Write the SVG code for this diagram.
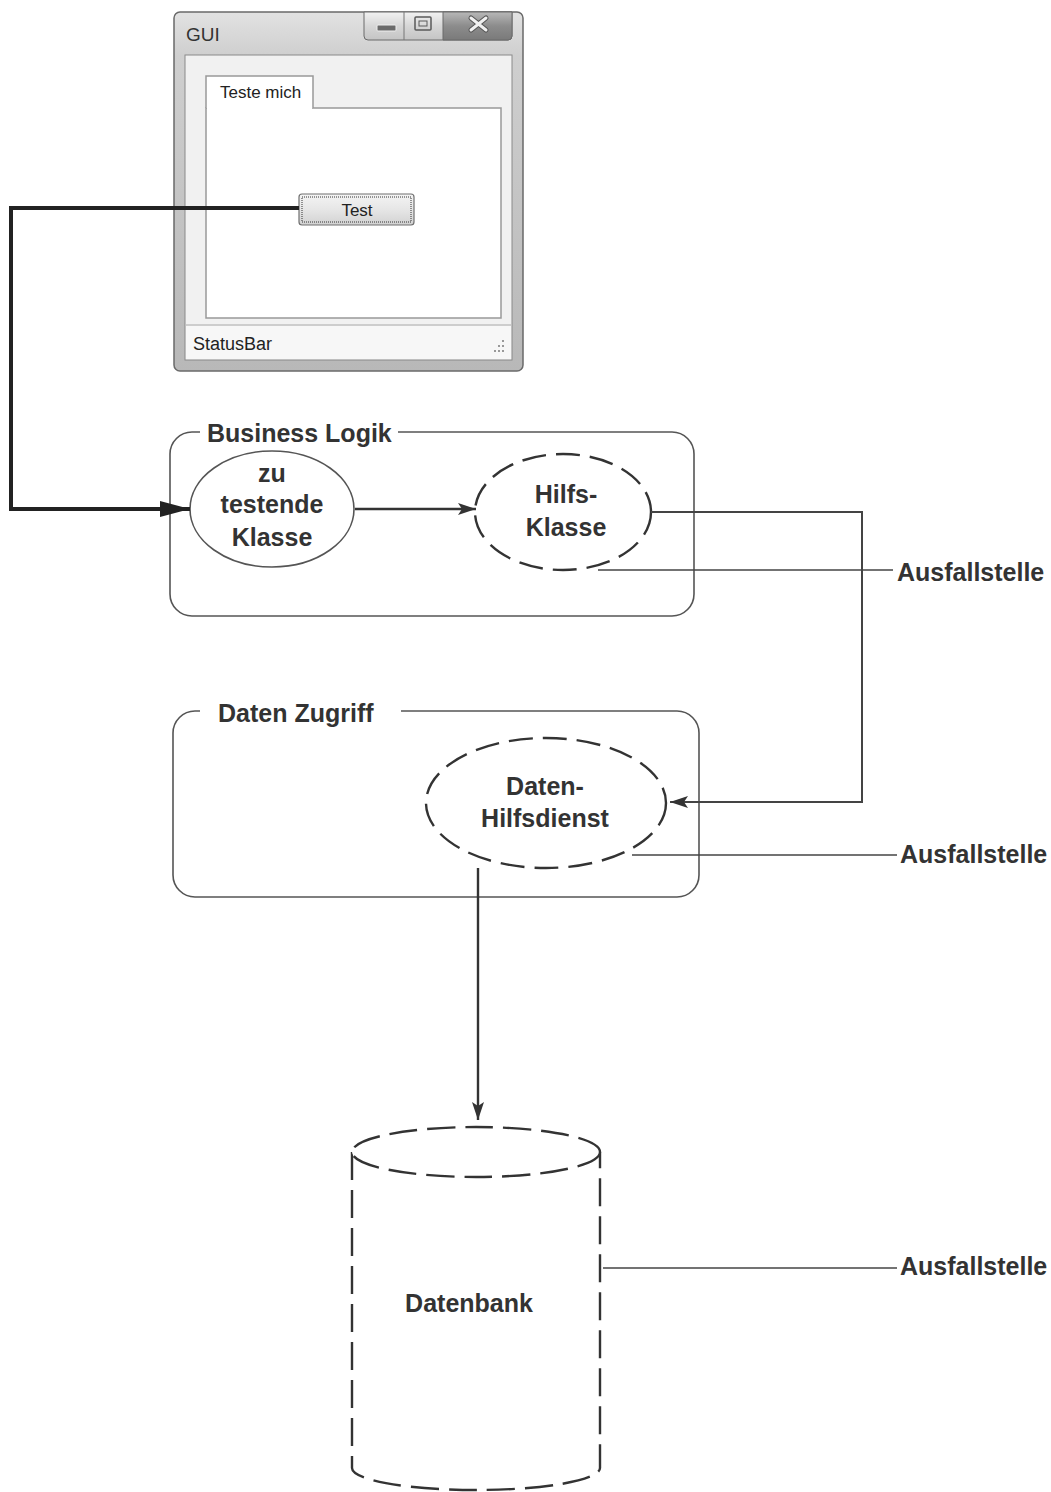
<svg xmlns="http://www.w3.org/2000/svg" width="1051" height="1492" viewBox="0 0 1051 1492">
<defs>
<style>
.lbl{font-family:"Liberation Sans",Arial,sans-serif;font-weight:bold;font-size:25px;fill:#333}
.mid{text-anchor:middle}
.win{font-family:"Liberation Sans",Arial,sans-serif;font-size:17px;fill:#222}
.box{fill:none;stroke:#555;stroke-width:1.6}
.solid{fill:#fff;stroke:#555;stroke-width:1.6}
.dash{fill:#fff;stroke:#333;stroke-width:2.4;stroke-dasharray:24 10}
.conn{fill:none;stroke:#444;stroke-width:1.6}
.grip{fill:#999}
</style>
<linearGradient id="frame" x1="0" y1="0" x2="0" y2="1">
<stop offset="0" stop-color="#e2e2e2"/>
<stop offset="0.12" stop-color="#cfcfcf"/>
<stop offset="1" stop-color="#b8b8b8"/>
</linearGradient>
<linearGradient id="tbtn" x1="0" y1="0" x2="0" y2="1">
<stop offset="0" stop-color="#f2f2f2"/>
<stop offset="0.5" stop-color="#d6d6d6"/>
<stop offset="1" stop-color="#c4c4c4"/>
</linearGradient>
<linearGradient id="tclose" x1="0" y1="0" x2="0" y2="1">
<stop offset="0" stop-color="#b8b8b8"/>
<stop offset="0.5" stop-color="#8c8c8c"/>
<stop offset="1" stop-color="#7a7a7a"/>
</linearGradient>
<linearGradient id="btn" x1="0" y1="0" x2="0" y2="1">
<stop offset="0" stop-color="#f4f4f4"/>
<stop offset="0.5" stop-color="#e6e6e6"/>
<stop offset="1" stop-color="#d2d2d2"/>
</linearGradient>
<marker id="bigArrow" markerUnits="userSpaceOnUse" markerWidth="32" markerHeight="20" refX="30" refY="10" orient="auto">
<path d="M0,2 L30,10 L0,18 Z" fill="#222"/>
</marker>
<marker id="arr" markerUnits="userSpaceOnUse" markerWidth="20" markerHeight="14" refX="18" refY="7" orient="auto">
<path d="M0,1 L18,7 L0,13 L4,7 Z" fill="#333"/>
</marker>
</defs>
<rect x="0" y="0" width="1051" height="1492" fill="#fff"/>

<g id="gui-window">
<rect x="174" y="12" width="349" height="359" rx="6" fill="url(#frame)" stroke="#6a6a6a" stroke-width="1.5"/>
<rect x="185" y="55" width="327" height="305" fill="#f1f1f1" stroke="#8a8a8a" stroke-width="1"/>
<text class="win" x="186" y="41" style="font-size:19px;fill:#333">GUI</text>
<g id="title-buttons">
<path d="M364,12 H512 V36 Q512,40 508,40 H368 Q364,40 364,36 Z" fill="url(#tbtn)" stroke="#6a6a6a" stroke-width="1"/>
<path d="M443,12 H512 V36 Q512,40 508,40 H443 Z" fill="url(#tclose)" stroke="#6a6a6a" stroke-width="1"/>
<line x1="404" y1="12" x2="404" y2="40" stroke="#777" stroke-width="1"/>
<rect x="377" y="25" width="19" height="6" rx="1" fill="#6a6a6a" stroke="#eee" stroke-width="1"/>
<rect x="415" y="17" width="16" height="13" rx="1" fill="none" stroke="#5a5a5a" stroke-width="1.5"/>
<rect x="419" y="21" width="8" height="5" fill="none" stroke="#5a5a5a" stroke-width="1"/>
<path d="M471,18 L486,30 M486,18 L471,30" stroke="#555" stroke-width="5" stroke-linecap="round"/>
<path d="M471,18 L486,30 M486,18 L471,30" stroke="#f0f0f0" stroke-width="3" stroke-linecap="round"/>
</g>
<rect x="206" y="108" width="295" height="210" fill="#fff" stroke="#999" stroke-width="1.5"/>
<path d="M206,108 V76 H313 V108" fill="#fff" stroke="#999" stroke-width="1.5"/>
<rect x="207" y="77" width="105" height="32" fill="#fff"/>
<text class="win" x="220" y="98">Teste mich</text>
<rect x="186" y="326" width="325" height="33" fill="#f7f7f7"/>
<line x1="186" y1="325" x2="511" y2="325" stroke="#aaa" stroke-width="1.2"/>
<text class="win" x="193" y="350" style="font-size:18px">StatusBar</text>
<g id="grip">
<rect class="grip" x="502" y="340" width="2" height="2"/>
<rect class="grip" x="498" y="345" width="2" height="2"/>
<rect class="grip" x="502" y="345" width="2" height="2"/>
<rect class="grip" x="494" y="350" width="2" height="2"/>
<rect class="grip" x="498" y="350" width="2" height="2"/>
<rect class="grip" x="502" y="350" width="2" height="2"/>
</g>
<g id="test-button">
<rect x="299" y="194" width="115" height="31" rx="3" fill="url(#btn)" stroke="#707070" stroke-width="1.2"/>
<rect x="302" y="197" width="109" height="25" fill="none" stroke="#333" stroke-width="1" stroke-dasharray="1 1"/>
<text class="win mid" x="357" y="216">Test</text>
</g>
</g>

<g id="business-logik">
<path class="box" d="M200,432 H192 A22,22 0 0 0 170,454 V594 A22,22 0 0 0 192,616 H672 A22,22 0 0 0 694,594 V454 A22,22 0 0 0 672,432 H398"/>
<text class="lbl" x="207" y="442">Business Logik</text>
</g>

<g id="zu-testende-klasse">
<ellipse class="solid" cx="272" cy="509" rx="82" ry="58"/>
<text class="lbl mid" x="272" y="482">zu</text>
<text class="lbl mid" x="272" y="513">testende</text>
<text class="lbl mid" x="272" y="546">Klasse</text>
</g>

<g id="hilfs-klasse">
<ellipse class="dash" cx="563" cy="512" rx="88" ry="58"/>
<text class="lbl mid" x="566" y="503">Hilfs-</text>
<text class="lbl mid" x="566" y="536">Klasse</text>
</g>

<g id="daten-zugriff">
<path class="box" d="M200,711 H195 A22,22 0 0 0 173,733 V875 A22,22 0 0 0 195,897 H677 A22,22 0 0 0 699,875 V733 A22,22 0 0 0 677,711 H401"/>
<text class="lbl" x="218" y="722">Daten Zugriff</text>
</g>

<g id="daten-hilfsdienst">
<ellipse class="dash" cx="546" cy="803" rx="120" ry="65"/>
<text class="lbl mid" x="545" y="795">Daten-</text>
<text class="lbl mid" x="545" y="827">Hilfsdienst</text>
</g>

<g id="datenbank">
<path d="M352,1152 V1468 A124,22 0 0 0 600,1468 V1152" fill="#fff" stroke="#333" stroke-width="2.4" stroke-dasharray="28 10"/>
<ellipse cx="476" cy="1152" rx="124" ry="25" fill="#fff" stroke="#333" stroke-width="2.4" stroke-dasharray="28 10"/>
<text class="lbl mid" x="469" y="1312">Datenbank</text>
</g>

<g id="ausfallstellen">
<text class="lbl" x="897" y="581">Ausfallstelle</text>
<text class="lbl" x="900" y="863">Ausfallstelle</text>
<text class="lbl" x="900" y="1275">Ausfallstelle</text>
</g>

<g id="connectors">
<polyline points="299,208 11,208 11,509 190,509" fill="none" stroke="#222" stroke-width="4" marker-end="url(#bigArrow)"/>
<line x1="355" y1="509" x2="476" y2="509" stroke="#333" stroke-width="2.4" marker-end="url(#arr)"/>
<polyline class="conn" points="651,512 862,512 862,802 670,802" style="stroke-width:2" marker-end="url(#arr)"/>
<line class="conn" x1="598" y1="570" x2="893" y2="570"/>
<line class="conn" x1="632" y1="855" x2="897" y2="855"/>
<line class="conn" x1="603" y1="1268" x2="897" y2="1268"/>
<line x1="478" y1="868" x2="478" y2="1120" stroke="#333" stroke-width="2.4" marker-end="url(#arr)"/>
</g>
</svg>
